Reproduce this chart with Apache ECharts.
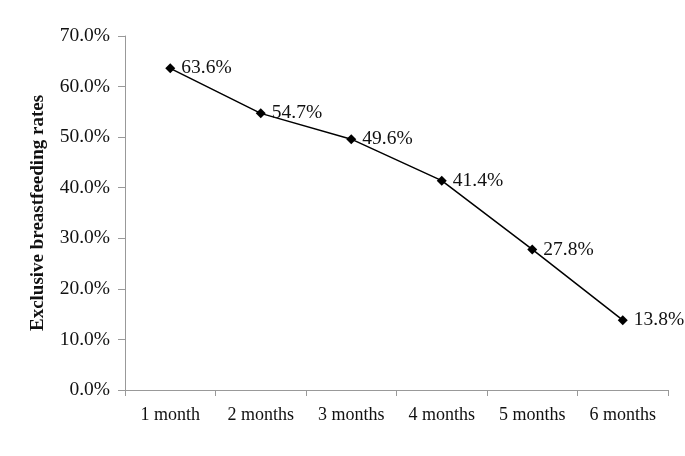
<!DOCTYPE html>
<html>
<head>
<meta charset="utf-8">
<script src="https://cdn.jsdelivr.net/npm/echarts@6/dist/echarts.min.js"></script>
<style>
  html, body { margin: 0; padding: 0; background: #fff; }
  #chart { width: 685px; height: 456px; }
</style>
</head>
<body>
<div id="chart"></div>
<script>
var categories = ['1 month', '2 months', '3 months', '4 months', '5 months', '6 months']
var rates = [63.6, 54.7, 49.6, 41.4, 27.8, 13.8]
var yTicks = { min: 0, max: 70, interval: 10 }

var chart = echarts.init(document.getElementById('chart'))
var font = 'Liberation Serif, Times New Roman, serif'

var option = {
  backgroundColor: '#fff',
  animation: false,
  grid: { left: 125, right: 17, top: 36, bottom: 66 },
  xAxis: {
    type: 'category',
    data: categories,
    boundaryGap: true,
    axisLine: { lineStyle: { color: '#999', width: 1 } },
    axisTick: { show: true, length: 6, lineStyle: { color: '#999' } },
    axisLabel: { color: '#111', fontFamily: font, fontSize: 18, margin: 16 }
  },
  yAxis: {
    type: 'value',
    min: yTicks.min,
    max: yTicks.max,
    interval: yTicks.interval,
    name: 'Exclusive breastfeeding rates',
    nameLocation: 'middle',
    nameGap: 77,
    nameTextStyle: { color: '#111', fontFamily: font, fontSize: 19, fontWeight: 'bold' },
    axisLine: { show: true, lineStyle: { color: '#999', width: 1 } },
    axisTick: { show: true, length: 7, lineStyle: { color: '#999' } },
    splitLine: { show: false },
    axisLabel: {
      color: '#111',
      fontFamily: font,
      fontSize: 19.5,
      margin: 15,
      formatter: function (v) { return v.toFixed(1) + '%' }
    }
  },
  series: [
    {
      type: 'line',
      data: rates,
      symbol: 'diamond',
      symbolSize: 10,
      itemStyle: { color: '#000' },
      lineStyle: { color: '#000', width: 1.5 },
      label: {
        show: true,
        position: 'right',
        distance: 6,
        color: '#111',
        fontFamily: font,
        fontSize: 19.5,
        formatter: function (p) { return p.value.toFixed(1) + '%' }
      }
    }
  ]
}

chart.setOption(option)
</script>
</body>
</html>
